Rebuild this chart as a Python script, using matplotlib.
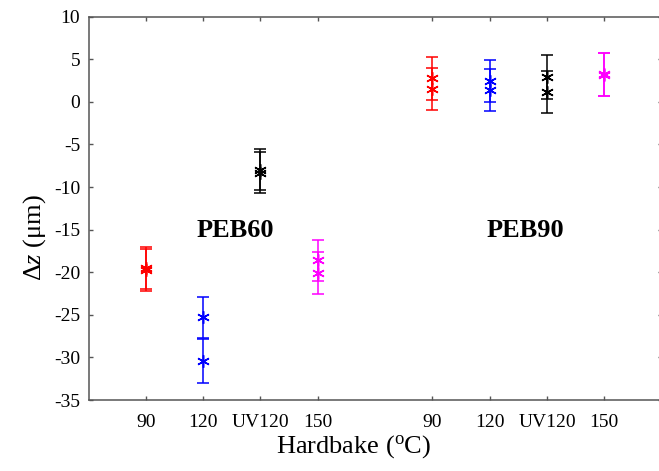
import numpy as np
import matplotlib.pyplot as plt

plt.rcParams["font.family"] = ["Liberation Serif", "DejaVu Serif"]
plt.rcParams["mathtext.fontset"] = "custom"
plt.rcParams["mathtext.rm"] = "Liberation Serif"
plt.rcParams["mathtext.it"] = "Liberation Serif:italic"
plt.rcParams["axes.unicode_minus"] = False

categories = ["90", "120", "UV120", "150"]
colors = ["#ff0000", "#0000ff", "#000000", "#ff00ff"]
groups = ["PEB60", "PEB90"]

peb60_z1 = [-19.5, -25.3, -7.95, -18.6]
peb60_e1 = [2.5, 2.45, 2.45, 2.4]
peb60_z2 = [-19.7, -30.4, -8.3, -20.1]
peb60_e2 = [2.45, 2.55, 2.4, 2.5]

peb90_z1 = [2.75, 2.45, 2.94, 3.2]
peb90_e1 = [2.48, 2.46, 2.56, 2.54]
peb90_z2 = [1.53, 1.40, 1.15, 3.25]
peb90_e2 = [2.48, 2.46, 2.48, 2.5]

fig = plt.figure(figsize=(6.59, 4.71), dpi=100)
ax = fig.add_axes([0.1343, 0.1507, 0.8697, 0.8138])

x60 = np.arange(1, 5)
x90 = np.arange(6, 10)
sets = [
    (x60, peb60_z1, peb60_e1, peb60_z2, peb60_e2),
    (x90, peb90_z1, peb90_e1, peb90_z2, peb90_e2),
]
asterisk = (6, 2, 0)
for xs, z1, e1, z2, e2 in sets:
    for i in range(4):
        for z, e in [(z1[i], e1[i]), (z2[i], e2[i])]:
            ax.errorbar(xs[i], z, yerr=e, color=colors[i], marker=asterisk,
                        markersize=9, markeredgewidth=1.1, elinewidth=1.1,
                        capsize=4.5, capthick=1.1, linestyle="none")

ax.text(2.56, -15.1, groups[0], fontsize=19, fontweight="bold", ha="center", va="center")
ax.text(7.62, -15.1, groups[1], fontsize=19, fontweight="bold", ha="center", va="center")

ax.set_xlim(0, 10)
ax.set_ylim(-35, 10)
ax.set_xticks(np.concatenate([x60, x90]))
ax.set_xticklabels(categories + categories)
ax.set_yticks(np.arange(-35, 11, 5))

for s in ax.spines.values():
    s.set_color("#555555")
    s.set_linewidth(1.1)
ax.tick_params(direction="in", top=True, right=True, length=3, width=1,
               color="#555555", labelsize=14)
ax.tick_params(axis="x", pad=10)
ax.tick_params(axis="y", pad=6)

ax.set_xlabel("Hardbake ($^{\\mathrm{o}}$C)", fontsize=19)
ax.set_ylabel("$\\Delta z$ (\u03bcm)", fontsize=19)
ax.xaxis.set_label_coords(0.4617, -0.086)
ax.yaxis.set_label_coords(-0.0705, 0.423)

fig.savefig("out.png", dpi=100)
